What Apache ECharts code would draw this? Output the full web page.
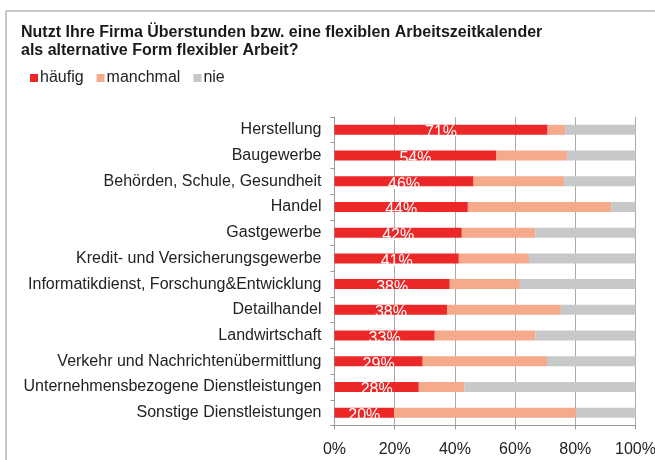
<!DOCTYPE html>
<html>
<head>
<meta charset="utf-8">
<script src="https://cdn.jsdelivr.net/npm/echarts@6/dist/echarts.min.js"></script>
<style>
  html, body { margin: 0; padding: 0; background: #fff; }
  #chart { width: 655px; height: 460px; }
</style>
</head>
<body>
<div id="chart"></div>
<script>
// Branchen, von oben nach unten
const branchen = [
  'Herstellung',
  'Baugewerbe',
  'Behörden, Schule, Gesundheit',
  'Handel',
  'Gastgewerbe',
  'Kredit- und Versicherungsgewerbe',
  'Informatikdienst, Forschung&Entwicklung',
  'Detailhandel',
  'Landwirtschaft',
  'Verkehr und Nachrichtenübermittlung',
  'Unternehmensbezogene Dienstleistungen',
  'Sonstige Dienstleistungen'
];

// Anteile in %
const haeufig  = [70.8, 53.8, 46.2, 44.3, 42.3, 41.3, 38.3, 37.5, 33.3, 29.3, 28.0, 19.8];
const manchmal = [5.8, 23.4, 30.1, 47.6, 24.4, 23.3, 23.3, 37.7, 33.4, 41.3, 15.2, 60.4];
const nie      = [23.4, 22.8, 23.7, 8.1, 33.3, 35.4, 38.4, 24.8, 33.3, 29.4, 56.8, 19.8];

const xTicks = [0, 20, 40, 60, 80, 100];

const chart = echarts.init(document.getElementById('chart'));

const baseFont = "'Liberation Sans', Arial, sans-serif";

const option = {
  backgroundColor: '#ffffff',
  animation: false,
  textStyle: { fontFamily: baseFont },
  title: {
    text: 'Nutzt Ihre Firma Überstunden bzw. eine flexiblen Arbeitszeitkalender\nals alternative Form flexibler Arbeit?',
    left: 21,
    top: 24,
    padding: 0,
    textStyle: {
      fontSize: 16,
      fontWeight: 'bold',
      lineHeight: 18,
      color: '#1a1a1a',
      fontFamily: baseFont
    }
  },
  legend: {
    left: 30,
    top: 70,
    padding: 0,
    icon: 'rect',
    itemWidth: 8,
    itemHeight: 8,
    itemGap: 13,
    textStyle: { fontSize: 16, color: '#222', fontFamily: baseFont, padding: [0, 0, 0, -3] },
    data: ['häufig', 'manchmal', 'nie']
  },
  graphic: [
    { type: 'line', shape: { x1: 6, y1: 11, x2: 655, y2: 11 }, style: { stroke: '#b4b4b4', lineWidth: 1.5 } },
    { type: 'line', shape: { x1: 6, y1: 11, x2: 6, y2: 460 }, style: { stroke: '#b4b4b4', lineWidth: 1.5 } }
  ],
  grid: {
    left: 334.5,
    right: 19.5,
    top: 117,
    bottom: 34.5,
    containLabel: false,
    outerBoundsMode: 'none'
  },
  xAxis: {
    type: 'value',
    min: xTicks[0],
    max: xTicks[xTicks.length - 1],
    interval: 20,
    axisLine: { show: true, lineStyle: { color: '#999', width: 1 } },
    axisTick: { show: true, length: 4, lineStyle: { color: '#999' } },
    splitLine: { show: true, lineStyle: { color: '#aaa', width: 1 } },
    axisLabel: {
      formatter: '{value}%',
      fontSize: 16,
      color: '#222',
      margin: 16,
      fontFamily: baseFont
    }
  },
  yAxis: {
    type: 'category',
    inverse: true,
    data: branchen,
    axisLine: { show: true, lineStyle: { color: '#999', width: 1 } },
    axisTick: { show: true, length: 4, alignWithLabel: false, lineStyle: { color: '#999' } },
    splitLine: { show: false },
    axisLabel: {
      fontSize: 16,
      color: '#222',
      margin: 13,
      fontFamily: baseFont
    }
  },
  series: [
    {
      name: 'häufig',
      type: 'bar',
      stack: 'total',
      barWidth: 10,
      data: haeufig,
      itemStyle: { color: '#ec2727' },
      label: {
        show: true,
        position: 'inside',
        offset: [0, 3],
        color: '#ffffff',
        fontSize: 16,
        fontFamily: baseFont,
        formatter: p => Math.round(p.value) + '%'
      }
    },
    {
      name: 'manchmal',
      type: 'bar',
      stack: 'total',
      barWidth: 10,
      data: manchmal,
      itemStyle: { color: '#f5aa8c' }
    },
    {
      name: 'nie',
      type: 'bar',
      stack: 'total',
      barWidth: 10,
      data: nie,
      itemStyle: { color: '#c7c8c9' }
    }
  ]
};

chart.setOption(option);
</script>
</body>
</html>
